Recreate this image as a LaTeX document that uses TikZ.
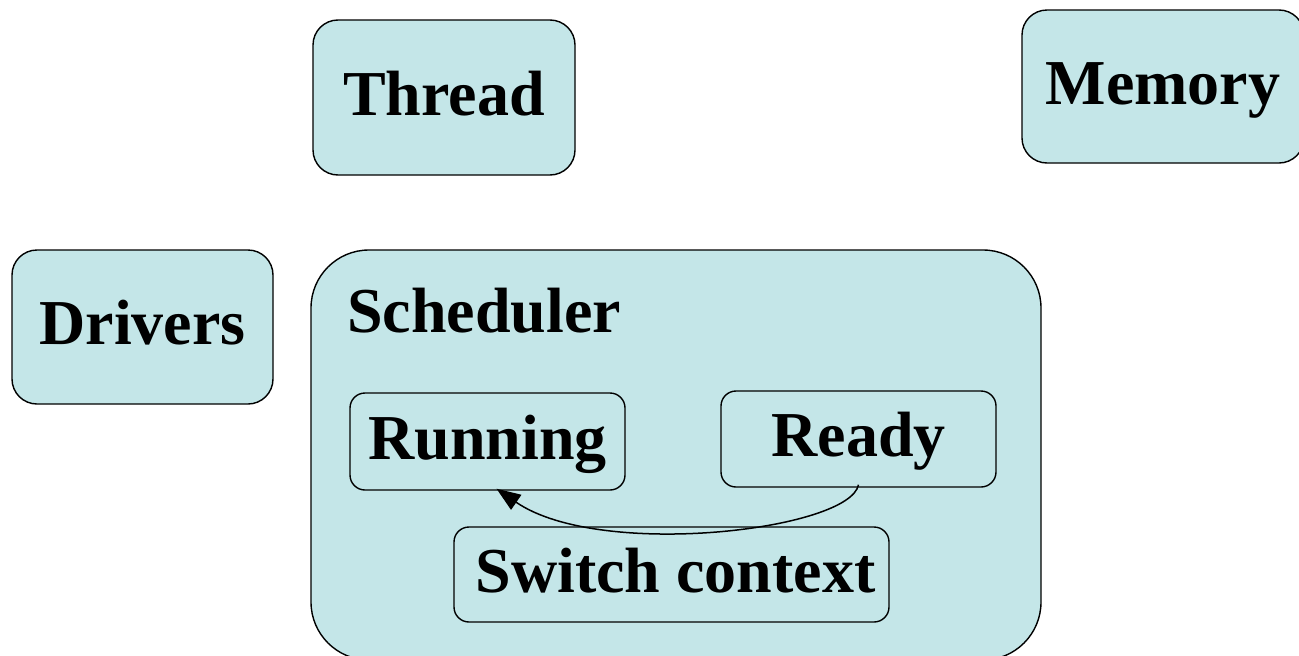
\documentclass[tikz,border=0pt]{standalone}
\usepackage{fontspec}
\setmainfont{Liberation Serif}
\usetikzlibrary{arrows.meta}
\definecolor{boxfill}{RGB}{196,230,232}
\tikzset{
  box/.style={draw=black, line width=1.4pt, fill=boxfill, inner sep=0pt,
    text height=45pt, text depth=10pt,
    font=\fontsize{64}{70}\selectfont\bfseries},
  bigbox/.style={box, rounded corners=25pt},
  subbox/.style={box, rounded corners=15pt},
  flow/.style={line width=1.5pt, -{Triangle[length=24pt,width=18pt]}}
}
\begin{document}
\begin{tikzpicture}[x=1pt,y=-1pt]
  \useasboundingbox (0,0) rectangle (1299,656);
  % top row
  \node[bigbox, minimum width=262pt, minimum height=155pt] (thread) at (444,97.5) {Thread};
  \node[bigbox, minimum width=282pt, minimum height=153pt] (memory) at (1163,86.5) {Memory};
  % left box
  \node[bigbox, minimum width=261pt, minimum height=154pt] (drivers) at (142.5,327) {Drivers};
  % scheduler container
  \node[box, rounded corners=58pt, minimum width=730pt, minimum height=410pt] (sched) at (676,455) {};
  \node[font=\fontsize{64}{70}\selectfont\bfseries, anchor=base west, inner sep=0pt] (schedlabel) at (347,332) {Scheduler};
  % inner states
  \node[subbox, minimum width=275pt, minimum height=97pt] (running) at (487.5,441.5) {Running};
  \node[subbox, minimum width=275pt, minimum height=96pt] (ready) at (858.5,439) {Ready};
  \node[subbox, minimum width=435pt, minimum height=95pt] (switch) at (671.5,574.5) {\hspace*{8pt}Switch context};
  % context switch: ready -> running
  \draw[flow] ([yshift=3pt]ready.south) .. controls (850,530) and (600,560) .. ([xshift=9pt,yshift=2pt]running.south);
\end{tikzpicture}
\end{document}
